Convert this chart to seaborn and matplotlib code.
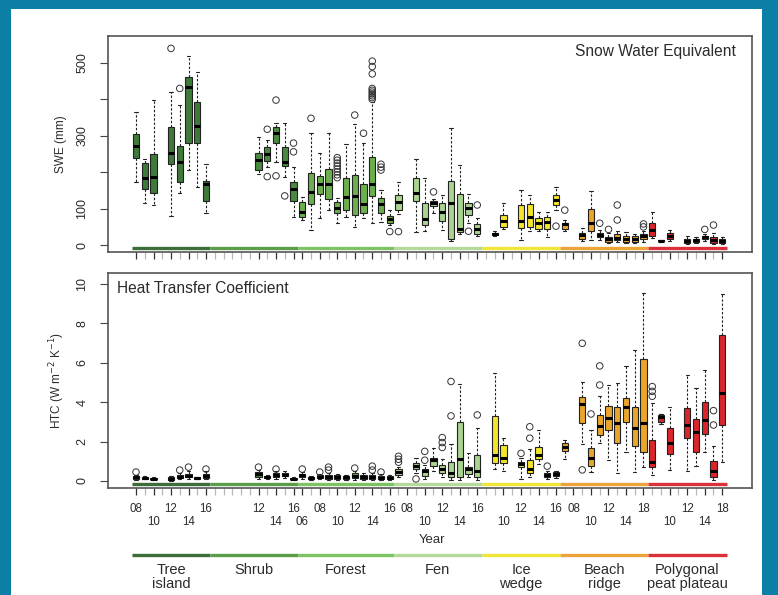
import numpy as np
import pandas as pd
import matplotlib
matplotlib.use("Agg")
import matplotlib.pyplot as plt
from matplotlib.patches import Rectangle
import seaborn as sns

# ecosystems and the sampling years that make up the x axis
groups = ["Tree island", "Shrub", "Forest", "Fen", "Ice wedge", "Beach ridge", "Polygonal peat plateau"]
group_labels = ["Tree\nisland", "Shrub", "Forest", "Fen", "Ice\nwedge", "Beach\nridge", "Polygonal\npeat plateau"]
group_years = [
    [2008, 2009, 2010, 2011, 2012, 2013, 2014, 2015, 2016],
    [2007, 2008, 2009, 2010, 2011, 2012, 2013, 2014, 2015, 2016],
    [2006, 2007, 2008, 2009, 2010, 2011, 2012, 2013, 2014, 2015, 2016],
    [2007, 2008, 2009, 2010, 2011, 2012, 2013, 2014, 2015, 2016],
    [2008, 2009, 2010, 2011, 2012, 2013, 2014, 2015, 2016],
    [2007, 2008, 2009, 2010, 2011, 2012, 2013, 2014, 2016, 2018],
    [2008, 2009, 2010, 2011, 2012, 2013, 2014, 2016, 2018],
]
upper_labels = [[2008, 2012, 2016], [2012, 2016], [2008, 2012, 2016], [2008, 2012, 2016],
                [2012, 2016], [2008, 2012, 2018], [2012, 2018]]
lower_labels = [[2010, 2014], [2014], [2006, 2010, 2014], [2010, 2014],
                [2010, 2014], [2010, 2014], [2010, 2014]]
box_colors = ["#3f7a3b", "#4a8a40", "#6cb04e", "#a9d38f", "#f3e42c", "#eaa52b", "#d8262b"]
band_colors = ["#3b6e38", "#5a9e4a", "#7dc263", "#b5d99a", "#f2e53a", "#eba33a", "#d9303a"]

# SWE (mm): year -> (whisker low, q1, median, q3, whisker high, [outliers])
swe_tree_island = {2008: (174, 238, 273, 305, 366, []), 2009: (115, 153, 183, 226, 235, []),
                   2010: (110, 142, 188, 250, 398, []), 2012: (80, 222, 252, 325, 421, [540]),
                   2013: (142, 174, 227, 272, 385, [430]), 2014: (206, 281, 435, 462, 519, []),
                   2015: (160, 281, 328, 394, 476, []), 2016: (89, 122, 168, 177, 223, [])}
swe_shrub = {2012: (195, 206, 234, 252, 298, []), 2013: (215, 232, 250, 268, 288, [318, 188]),
             2014: (229, 279, 307, 325, 334, [398, 190]), 2015: (188, 217, 229, 268, 334, [135]),
             2016: (78, 122, 153, 174, 215, [280, 256])}
swe_forest = {2006: (70, 76, 92, 119, 133, []), 2007: (41, 113, 146, 199, 307, [348]),
              2008: (73, 140, 168, 190, 254, []), 2009: (96, 126, 168, 208, 309, []),
              2010: (60, 89, 101, 119, 130, [185, 193, 201, 209, 217, 225, 233, 240]),
              2011: (78, 96, 131, 183, 277, []), 2012: (50, 82, 135, 192, 332, [357]),
              2013: (73, 89, 113, 169, 281, [307]),
              2014: (61, 135, 168, 241, 394, [400, 405, 410, 415, 420, 425, 430, 470, 490, 505]),
              2015: (64, 87, 113, 128, 150, [206, 214, 222]), 2016: (55, 61, 71, 80, 96, [37])}
swe_fen = {2007: (85, 96, 119, 137, 174, [37]), 2009: (37, 122, 142, 183, 235, []),
           2010: (40, 55, 71, 115, 183, []), 2011: (89, 107, 115, 121, 126, [146]),
           2012: (41, 66, 92, 115, 137, []), 2013: (10, 16, 115, 177, 321, []),
           2014: (30, 37, 43, 139, 220, []), 2015: (60, 82, 101, 115, 140, [38]),
           2016: (25, 30, 43, 57, 75, [110])}
swe_ice_wedge = {2009: (24, 27, 30, 33, 38, []), 2010: (45, 50, 67, 82, 115, []),
                 2012: (14, 46, 67, 110, 151, []), 2013: (39, 49, 78, 113, 137, []),
                 2014: (40, 43, 60, 73, 90, []), 2015: (21, 43, 64, 78, 92, []),
                 2016: (95, 110, 124, 137, 160, [52])}
swe_beach_ridge = {2007: (38, 43, 57, 61, 68, [96]), 2009: (12, 18, 27, 34, 46, []),
                   2010: (14, 39, 61, 98, 149, []), 2011: (15, 21, 27, 34, 42, [60]),
                   2012: (5, 8, 16, 23, 32, [43]), 2013: (8, 14, 19, 30, 40, [110, 69]),
                   2014: (5, 8, 16, 25, 37, []), 2016: (5, 8, 18, 25, 30, []),
                   2018: (8, 18, 25, 30, 40, [58, 50])}
swe_polygonal = {2008: (20, 25, 41, 60, 92, []), 2009: (9, 10, 12, 13, 14, []),
                 2010: (12, 16, 25, 34, 41, []), 2012: (3, 5, 12, 18, 25, []),
                 2013: (5, 8, 14, 18, 22, []), 2014: (10, 16, 21, 25, 30, [43]),
                 2016: (3, 5, 14, 21, 32, [55]), 2018: (3, 5, 12, 18, 22, [])}

# HTC (W m-2 K-1)
htc_tree_island = {2008: (0.05, 0.1, 0.2, 0.25, 0.3, [0.45]), 2009: (0.08, 0.1, 0.15, 0.2, 0.25, []),
                   2010: (0.05, 0.08, 0.12, 0.16, 0.2, []), 2012: (0.02, 0.05, 0.1, 0.18, 0.25, []),
                   2013: (0.1, 0.15, 0.2, 0.3, 0.4, [0.55]), 2014: (0.1, 0.18, 0.25, 0.35, 0.5, [0.7]),
                   2015: (0.08, 0.1, 0.15, 0.18, 0.22, []), 2016: (0.1, 0.15, 0.25, 0.35, 0.5, [0.6])}
htc_shrub = {2012: (0.1, 0.2, 0.35, 0.45, 0.55, [0.7]), 2013: (0.1, 0.15, 0.2, 0.25, 0.3, []),
             2014: (0.1, 0.2, 0.3, 0.4, 0.5, [0.6]), 2015: (0.15, 0.25, 0.32, 0.4, 0.5, []),
             2016: (0.05, 0.08, 0.12, 0.15, 0.2, [])}
htc_forest = {2006: (0.1, 0.2, 0.3, 0.35, 0.45, [0.6]), 2007: (0.05, 0.1, 0.15, 0.2, 0.25, []),
              2008: (0.1, 0.15, 0.2, 0.28, 0.35, [0.45]), 2009: (0.05, 0.1, 0.2, 0.28, 0.4, [0.55, 0.7]),
              2010: (0.05, 0.1, 0.2, 0.3, 0.35, []), 2011: (0.05, 0.12, 0.18, 0.25, 0.3, []),
              2012: (0.05, 0.15, 0.25, 0.4, 0.5, [0.65]), 2013: (0.05, 0.1, 0.2, 0.3, 0.4, []),
              2014: (0.05, 0.12, 0.2, 0.3, 0.4, [0.55, 0.75]), 2015: (0.03, 0.08, 0.15, 0.25, 0.35, [0.45]),
              2016: (0.05, 0.1, 0.15, 0.25, 0.3, [])}
htc_fen = {2007: (0.2, 0.3, 0.45, 0.6, 0.7, [0.95, 1.1, 1.25]), 2009: (0.4, 0.6, 0.75, 0.9, 1.15, [0.1]),
           2010: (0.1, 0.25, 0.5, 0.6, 0.8, [1.05, 1.5]), 2011: (0.5, 0.75, 1.05, 1.15, 1.65, []),
           2012: (0.2, 0.4, 0.6, 0.8, 1.1, [1.7, 1.95, 2.2]), 2013: (0.05, 0.22, 0.42, 0.98, 1.9, [3.3, 5.05]),
           2014: (0.05, 0.2, 1.1, 3.0, 4.9, []), 2015: (0.2, 0.35, 0.6, 0.73, 1.4, []),
           2016: (0.05, 0.19, 0.5, 1.32, 2.67, [3.35])}
htc_ice_wedge = {2009: (0.6, 0.9, 1.32, 3.3, 5.47, []), 2010: (0.5, 0.9, 1.15, 1.83, 2.17, []),
                 2012: (0.1, 0.73, 0.85, 0.98, 1.15, [1.4]), 2013: (0.2, 0.4, 0.6, 1.07, 1.6, [2.17, 2.75]),
                 2014: (0.85, 1.1, 1.32, 1.74, 2.6, []), 2015: (0.1, 0.2, 0.3, 0.4, 0.5, [0.75]),
                 2016: (0.15, 0.25, 0.35, 0.45, 0.5, [])}
htc_beach_ridge = {2007: (1.1, 1.5, 1.7, 1.93, 2.1, []), 2009: (1.88, 2.93, 3.9, 4.25, 5.04, [6.99, 0.56]),
                   2010: (0.46, 0.76, 1.15, 1.69, 2.59, [3.4]), 2011: (1.91, 2.34, 2.79, 3.35, 4.3, [4.87, 5.84]),
                   2012: (1.07, 2.59, 3.18, 3.8, 4.87, []), 2013: (0.4, 1.94, 2.93, 3.74, 4.99, []),
                   2014: (1.49, 3.01, 3.77, 4.2, 5.84, []), 2016: (0.46, 1.78, 2.67, 3.77, 6.65, []),
                   2018: (0.73, 1.49, 2.93, 6.18, 9.53, [])}
htc_polygonal = {2008: (0.3, 0.73, 0.98, 2.08, 3.94, [4.3, 4.55, 4.79]), 2009: (2.9, 3.01, 3.24, 3.35, 3.4, []),
                 2010: (0.53, 1.37, 1.94, 2.67, 3.77, []), 2012: (0.48, 2.17, 2.84, 3.69, 5.38, []),
                 2013: (0.76, 1.49, 2.5, 3.13, 4.7, []), 2014: (1.49, 2.39, 3.1, 4.03, 5.63, []),
                 2016: (0.05, 0.19, 0.5, 1.03, 1.78, [2.84, 3.57]), 2018: (0.98, 2.84, 4.45, 7.41, 9.49, [])}

swe_all = [swe_tree_island, swe_shrub, swe_forest, swe_fen, swe_ice_wedge, swe_beach_ridge, swe_polygonal]
htc_all = [htc_tree_island, htc_shrub, htc_forest, htc_fen, htc_ice_wedge, htc_beach_ridge, htc_polygonal]

# slot offsets of every ecosystem along the x axis
offsets = np.cumsum([0] + [len(y) for y in group_years])[:-1]


def build_frames(per_group):
    rows, fliers = [], []
    for g, start, years, d in zip(groups, offsets, group_years, per_group):
        for yr, st in d.items():
            pos = start + years.index(yr)
            for v in st[:5]:
                rows.append((pos, g, v))
            for o in st[5]:
                fliers.append((pos, g, o))
    return (pd.DataFrame(rows, columns=["pos", "group", "value"]),
            pd.DataFrame(fliers, columns=["pos", "group", "value"]))


sns.set_style("ticks")
plt.rcParams["font.family"] = ["Liberation Sans", "DejaVu Sans"]
text_col = "#2b2b2b"

W, H = 778, 595
fig = plt.figure(figsize=(W / 100, H / 100), dpi=100)
fig.patch.set_facecolor("#0b7fa5")
fig.add_artist(Rectangle((11 / W, 0), (762 - 11) / W, (H - 9) / H, transform=fig.transFigure,
                         facecolor="white", edgecolor="none", zorder=-10))

left, width = 108 / W, (752 - 108) / W
ax1 = fig.add_axes([left, 1 - 252 / H, width, (252 - 36) / H])
ax2 = fig.add_axes([left, 1 - 488 / H, width, (488 - 273) / H])
ax3 = fig.add_axes([left, 0, width, 50 / H])

n_slots = sum(len(y) for y in group_years)
xlim = (-3.2, n_slots - 1 + 3.4)

# tick positions: upper-row labels, lower-row labels and unlabeled years
up_pos, up_lab, low_pos, low_lab = [], [], [], []
for start, years, up, lo in zip(offsets, group_years, upper_labels, lower_labels):
    for i, yr in enumerate(years):
        if yr in up:
            up_pos.append(start + i)
            up_lab.append(f"{yr % 100:02d}")
        elif yr in lo:
            low_pos.append(start + i)
            low_lab.append(f"{yr % 100:02d}")
plain_pos = [p for p in range(n_slots) if p not in up_pos and p not in low_pos]


def draw_panel(ax, per_group, ylim, yticks, yticklabels, ylabel, show_years):
    boxes, fliers = build_frames(per_group)
    sns.boxplot(data=boxes, x="pos", y="value", hue="group", hue_order=groups,
                palette=dict(zip(groups, box_colors)), saturation=1,
                native_scale=True, dodge=False, width=0.72, whis=(0, 100),
                showfliers=False, legend=False, linecolor="#222222", linewidth=0.8,
                medianprops=dict(color="black", linewidth=2.2),
                whiskerprops=dict(linestyle=(0, (2.2, 1.6)), linewidth=0.8),
                capprops=dict(linewidth=0.8), ax=ax)
    sns.scatterplot(data=fliers, x="pos", y="value", marker="o", s=22, facecolor="none",
                    edgecolor="#333333", linewidth=0.7, legend=False, ax=ax, zorder=5)
    for start, years, c in zip(offsets, group_years, band_colors):
        ax.plot([start - 0.5, start + len(years) - 0.5], [0.018, 0.018], color=c, lw=2.4,
                solid_capstyle="butt", transform=ax.get_xaxis_transform(), zorder=1)
    ax.set_xlim(*xlim)
    ax.set_ylim(*ylim)
    ax.set_yticks(yticks)
    ax.set_yticklabels(yticklabels, rotation=90, va="center")
    ax.set_xticks(up_pos, up_lab if show_years else [""] * len(up_pos))
    ax.set_xticks(low_pos, low_lab if show_years else [""] * len(low_pos), minor=True)
    ax.tick_params(axis="y", direction="out", length=6, width=0.8, colors="#444444",
                   labelcolor=text_col, labelsize=9, pad=8)
    ax.tick_params(axis="x", which="major", direction="out", length=5, width=0.9, colors="#333333",
                   labelcolor=text_col, labelsize=8.3, pad=6)
    ax.tick_params(axis="x", which="minor", direction="out", length=5, width=0.9, colors="#333333",
                   labelcolor=text_col, labelsize=8.3, pad=15.5)
    # light ticks for the years without a label
    sec = ax.secondary_xaxis("bottom")
    sec.set_xticks(plain_pos, [""] * len(plain_pos))
    sec.tick_params(axis="x", direction="out", length=5, width=0.9, colors="#b8b8b8")
    sec.spines["bottom"].set_visible(False)
    for s in ax.spines.values():
        s.set_color("#555555")
        s.set_linewidth(1.2)
    ax.set_xlabel("")
    ax.set_ylabel(ylabel, fontsize=8.5, color=text_col)
    ax.yaxis.set_label_coords(-0.064, 0.5)


draw_panel(ax1, swe_all, (-19, 574), [0, 100, 200, 300, 400, 500],
           ["0", "100", "", "300", "", "500"], "SWE (mm)", False)
ax1.text(0.975, 0.93, "Snow Water Equivalent", transform=ax1.transAxes, ha="right", va="center",
         fontsize=11.2, color=text_col)

draw_panel(ax2, htc_all, (-0.36, 10.56), [0, 2, 4, 6, 8, 10],
           ["0", "2", "4", "6", "8", "10"], "HTC (W m$^{-2}$ K$^{-1}$)", True)
ax2.text(0.014, 0.93, "Heat Transfer Coefficient", transform=ax2.transAxes, ha="left", va="center",
         fontsize=11.2, color=text_col)
fig.text(432 / W, 1 - 540 / H, "Year", ha="center", va="center", fontsize=9.5, color=text_col)

# ecosystem key under the axis
ax3.set_xlim(*xlim)
ax3.set_ylim(50, 0)
ax3.axis("off")
for start, years, c, lab in zip(offsets, group_years, band_colors, group_labels):
    ax3.plot([start - 0.5, start + len(years) - 0.5], [10, 10], color=c, lw=2.4, solid_capstyle="butt")
    ax3.text(start + (len(years) - 1) / 2, 18, lab, ha="center", va="top", fontsize=10.5,
             linespacing=1.0, color=text_col)

fig.savefig("out.png", dpi=100)
